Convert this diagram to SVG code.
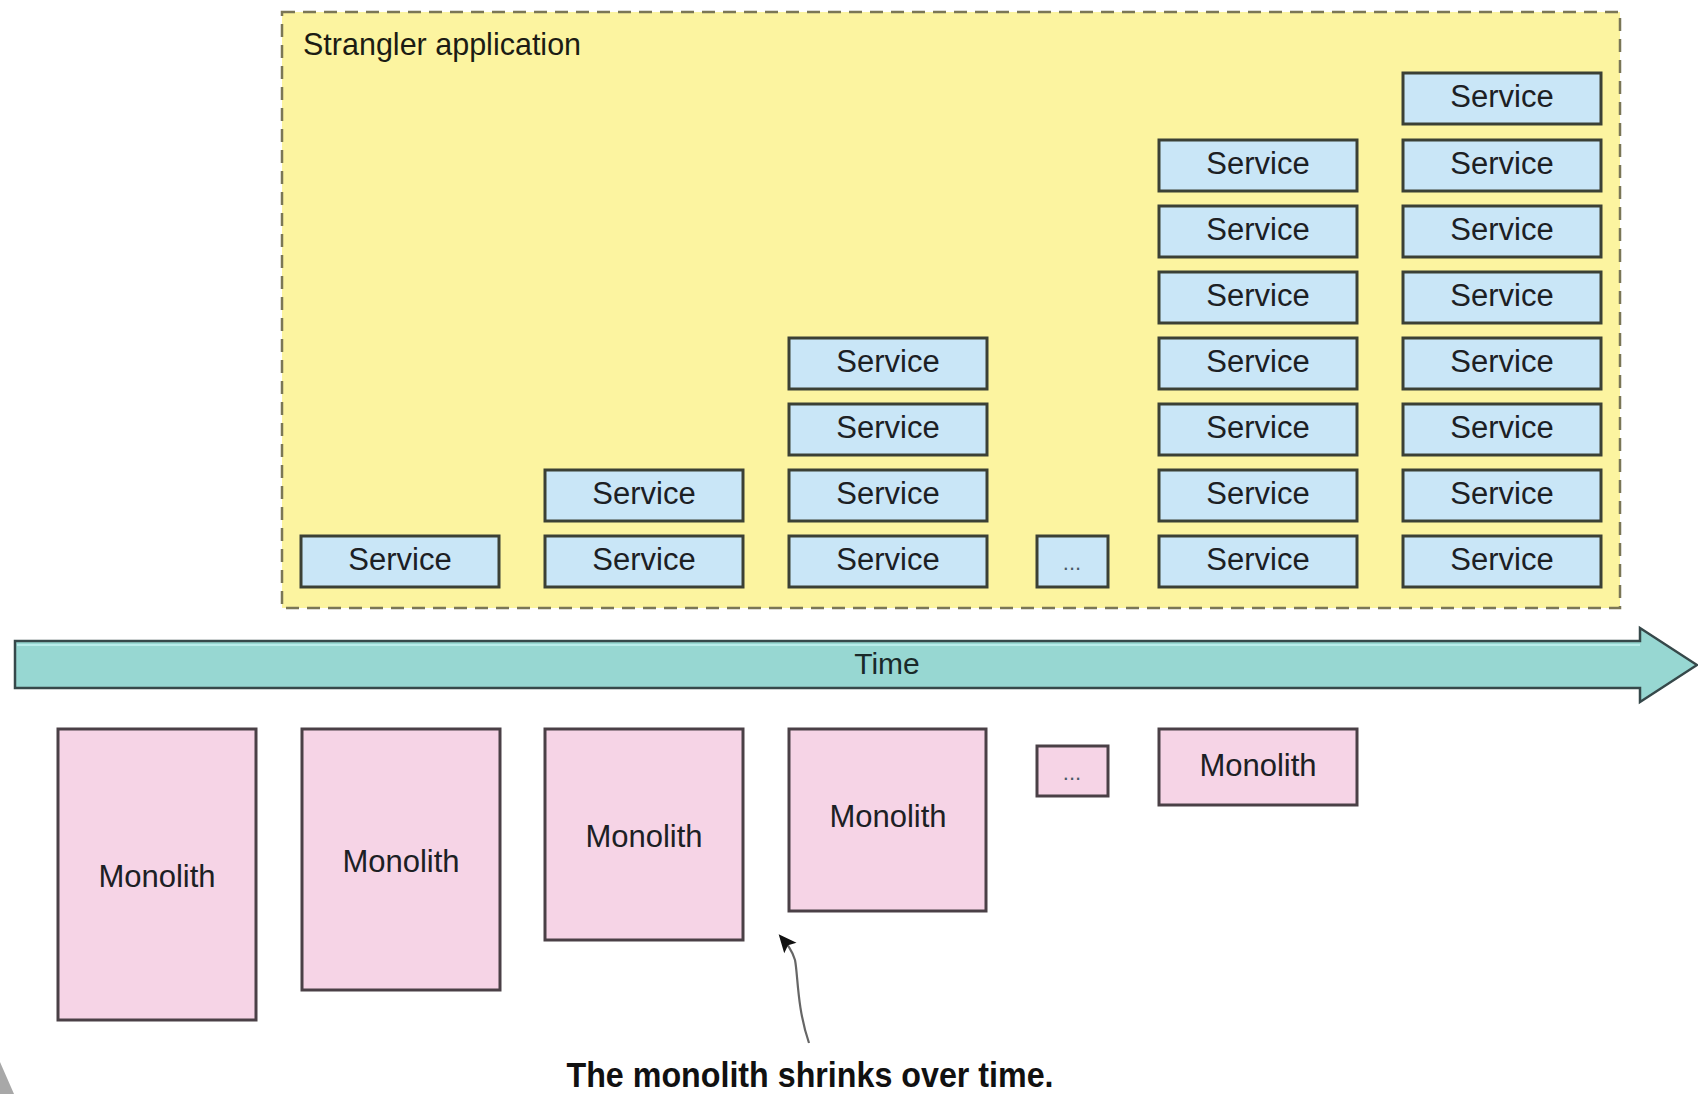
<svg xmlns="http://www.w3.org/2000/svg" width="1698" height="1094" viewBox="0 0 1698 1094">
<defs>
<style>
.svc{fill:#c9e6f7;stroke:#3b4035;stroke-width:3}
.mono{fill:#f6d4e6;stroke:#4a4046;stroke-width:3}
.lbl{font-family:"Liberation Sans",Arial,sans-serif;font-size:31px;fill:#1c2024;text-anchor:middle}
.dots{font-family:"Liberation Sans",Arial,sans-serif;font-size:22px;fill:#4a5a66;text-anchor:middle}
</style>
<marker id="ah" viewBox="0 0 10 10" refX="8" refY="5" markerWidth="20" markerHeight="18" orient="auto-start-reverse" markerUnits="userSpaceOnUse">
<path d="M0,0.5 L10,5 L0,9.5 L2,5 z" fill="#111"/>
</marker>
</defs>
<rect width="1698" height="1094" fill="#ffffff"/>

<g id="strangler">
<rect x="282" y="12" width="1338" height="596" fill="#fcf4a0" stroke="#7a7656" stroke-width="2.5" stroke-dasharray="13 8"/>
<text x="303" y="55" font-family="Liberation Sans,Arial,sans-serif" font-size="30.5" fill="#1c1c14">Strangler application</text>
</g>

<g id="services">
<g id="s1-0"><rect class="svc" x="301" y="536" width="198" height="51"/><text class="lbl" x="400" y="570">Service</text></g>

<g id="s2-0"><rect class="svc" x="545" y="536" width="198" height="51"/><text class="lbl" x="644" y="570">Service</text></g>
<g id="s2-1"><rect class="svc" x="545" y="470" width="198" height="51"/><text class="lbl" x="644" y="504">Service</text></g>

<g id="s3-0"><rect class="svc" x="789" y="536" width="198" height="51"/><text class="lbl" x="888" y="570">Service</text></g>
<g id="s3-1"><rect class="svc" x="789" y="470" width="198" height="51"/><text class="lbl" x="888" y="504">Service</text></g>
<g id="s3-2"><rect class="svc" x="789" y="404" width="198" height="51"/><text class="lbl" x="888" y="438">Service</text></g>
<g id="s3-3"><rect class="svc" x="789" y="338" width="198" height="51"/><text class="lbl" x="888" y="372">Service</text></g>

<g id="s4-dots"><rect class="svc" x="1037" y="536" width="71" height="51"/><text class="dots" x="1072" y="570">...</text></g>

<g id="s5-0"><rect class="svc" x="1159" y="536" width="198" height="51"/><text class="lbl" x="1258" y="570">Service</text></g>
<g id="s5-1"><rect class="svc" x="1159" y="470" width="198" height="51"/><text class="lbl" x="1258" y="504">Service</text></g>
<g id="s5-2"><rect class="svc" x="1159" y="404" width="198" height="51"/><text class="lbl" x="1258" y="438">Service</text></g>
<g id="s5-3"><rect class="svc" x="1159" y="338" width="198" height="51"/><text class="lbl" x="1258" y="372">Service</text></g>
<g id="s5-4"><rect class="svc" x="1159" y="272" width="198" height="51"/><text class="lbl" x="1258" y="306">Service</text></g>
<g id="s5-5"><rect class="svc" x="1159" y="206" width="198" height="51"/><text class="lbl" x="1258" y="240">Service</text></g>
<g id="s5-6"><rect class="svc" x="1159" y="140" width="198" height="51"/><text class="lbl" x="1258" y="174">Service</text></g>

<g id="s6-0"><rect class="svc" x="1403" y="536" width="198" height="51"/><text class="lbl" x="1502" y="570">Service</text></g>
<g id="s6-1"><rect class="svc" x="1403" y="470" width="198" height="51"/><text class="lbl" x="1502" y="504">Service</text></g>
<g id="s6-2"><rect class="svc" x="1403" y="404" width="198" height="51"/><text class="lbl" x="1502" y="438">Service</text></g>
<g id="s6-3"><rect class="svc" x="1403" y="338" width="198" height="51"/><text class="lbl" x="1502" y="372">Service</text></g>
<g id="s6-4"><rect class="svc" x="1403" y="272" width="198" height="51"/><text class="lbl" x="1502" y="306">Service</text></g>
<g id="s6-5"><rect class="svc" x="1403" y="206" width="198" height="51"/><text class="lbl" x="1502" y="240">Service</text></g>
<g id="s6-6"><rect class="svc" x="1403" y="140" width="198" height="51"/><text class="lbl" x="1502" y="174">Service</text></g>
<g id="s6-7"><rect class="svc" x="1403" y="73" width="198" height="51"/><text class="lbl" x="1502" y="107">Service</text></g>
</g>

<g id="time">
<polygon points="15,641 1640,641 1640,628 1697,665 1640,702 1640,688 15,688" fill="#97d7d2" stroke="#36484a" stroke-width="2.5" stroke-linejoin="miter"/>
<line x1="17" y1="645" x2="1640" y2="645" stroke="#b9ecea" stroke-width="2"/>
<text x="887" y="674" font-family="Liberation Sans,Arial,sans-serif" font-size="30" fill="#1a2a2a" text-anchor="middle">Time</text>
</g>

<g id="monoliths">
<g id="m1"><rect class="mono" x="58" y="729" width="198" height="291"/><text class="lbl" x="157" y="887">Monolith</text></g>
<g id="m2"><rect class="mono" x="302" y="729" width="198" height="261"/><text class="lbl" x="401" y="872">Monolith</text></g>
<g id="m3"><rect class="mono" x="545" y="729" width="198" height="211"/><text class="lbl" x="644" y="847">Monolith</text></g>
<g id="m4"><rect class="mono" x="789" y="729" width="197" height="182"/><text class="lbl" x="888" y="827">Monolith</text></g>
<g id="m5-dots"><rect class="mono" x="1037" y="746" width="71" height="50"/><text class="dots" x="1072" y="780" fill="#6a5a66">...</text></g>
<g id="m6"><rect class="mono" x="1159" y="729" width="198" height="76"/><text class="lbl" x="1258" y="776">Monolith</text></g>
</g>

<g id="connectors">
<path d="M809,1043 C797,1008 798,975 795,960 C792,950 787,944 781,937" fill="none" stroke="#666" stroke-width="2.2" marker-end="url(#ah)"/>
</g>

<g id="annotation">
<text x="810" y="1087" font-family="Liberation Sans,Arial,sans-serif" font-weight="bold" font-size="35" fill="#111" text-anchor="middle" textLength="487" lengthAdjust="spacingAndGlyphs">The monolith shrinks over time.</text>
</g>

<polygon points="0,1062 14,1094 0,1094" fill="#a8a8a8"/>
</svg>
